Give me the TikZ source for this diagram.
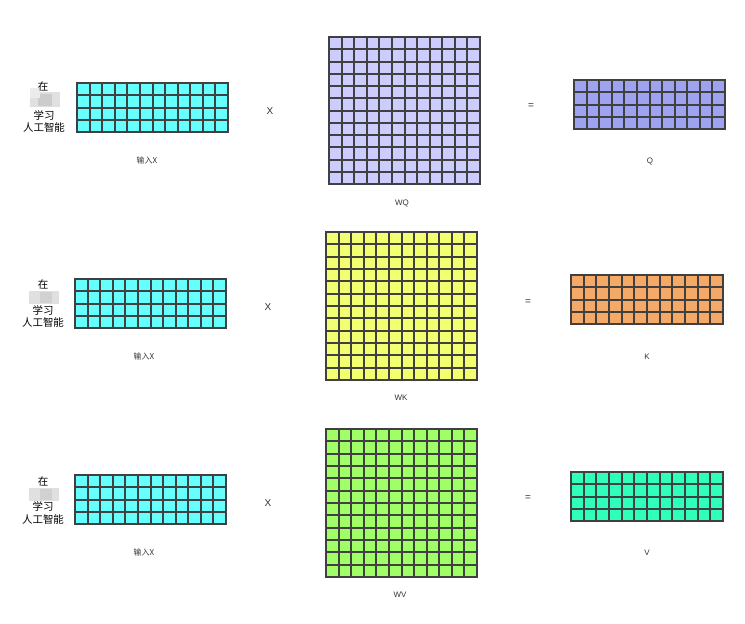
\documentclass[tikz,border=0pt]{standalone}
\usepackage{fontspec}
\setmainfont{Liberation Sans}
\newfontfamily\cjk{Noto Sans CJK SC}
\definecolor{xcyan}{HTML}{66FFFF}
\definecolor{wqcol}{HTML}{CCCCFF}
\definecolor{qcol}{HTML}{9EA3F0}
\definecolor{wkcol}{HTML}{F2FF70}
\definecolor{kcol}{HTML}{F4AA66}
\definecolor{wvcol}{HTML}{A0FF66}
\definecolor{vcol}{HTML}{2EFFBB}
\definecolor{gline}{HTML}{404040}
% #1 name, #2 left, #3 top, #4 width, #5 height, #6 cols, #7 rows, #8 fill
\newcommand\mgrid[8]{%
  \node[matbox, fill=#8, minimum width=#4bp, minimum height=#5bp] (#1) at (#2+#4/2, #3+#5/2) {};
  \foreach \i in {1,...,\numexpr#6-1\relax}{%
    \pgfmathsetmacro\gx{round(#2+\i*#4/#6)}
    \draw[gridline] (\gx,#3) -- (\gx,#3+#5);}
  \foreach \j in {1,...,\numexpr#7-1\relax}{%
    \pgfmathsetmacro\gy{round(#3+\j*#5/#7)}
    \draw[gridline] (#2,\gy) -- (#2+#4,\gy);}
  \node[matbox, minimum width=#4bp, minimum height=#5bp] at (#1) {};
}
\tikzset{
  matbox/.style={draw=gline, line width=2bp, inner sep=0pt, outer sep=0pt, rectangle},
  gridline/.style={draw=gline, line width=2bp},
  cjkcap/.style={font=\cjk\fontsize{8}{9}\selectfont, text=black!80},
  lbl/.style={font=\fontsize{8}{9}\selectfont, text=black!80},
  opsign/.style={font=\fontsize{10}{11}\selectfont, text=black!80},
  side/.style={font=\cjk\fontsize{10.5}{12}\selectfont, inner sep=0pt}
}
\begin{document}
\begin{tikzpicture}[x=1bp,y=-1bp]
\useasboundingbox (0,0) rectangle (745,624);
% ---------- row 1 ----------
\mgrid{x1}{77}{83}{151}{49}{12}{4}{xcyan}
\mgrid{wq}{329}{37}{151}{147}{12}{12}{wqcol}
\mgrid{q}{574}{80}{151}{49}{12}{4}{qcol}
\fill[black!12] (30,92) rectangle (60,107);
\fill[black!20] (38,94) rectangle (52,106);
\fill[black!8] (30,88) rectangle (40,98);
\node[side] (s1a) at (43,87) {在};
\node[side] (s1b) at (44,115) {学习};
\node[side] (s1c) at (44,128) {人工智能};
\node[cjkcap] (c1) at (147,160) {输入X};
\node[opsign] (m1) at (270,111) {X};
\node[lbl] (l1) at (402,203) {WQ};
\node[opsign] (e1) at (531,106) {=};
\node[lbl] (r1) at (650,161) {Q};
% ---------- row 2 ----------
\mgrid{x2}{75}{279}{151}{49}{12}{4}{xcyan}
\mgrid{wk}{326}{232}{151}{148}{12}{12}{wkcol}
\mgrid{k}{571}{275}{152}{49}{12}{4}{kcol}
\fill[black!12] (29,291) rectangle (59,304);
\fill[black!18] (40,292) rectangle (52,303);
\node[side] (s2a) at (43,285) {在};
\node[side] (s2b) at (43,310) {学习};
\node[side] (s2c) at (43,323) {人工智能};
\node[cjkcap] (c2) at (144,356) {输入X};
\node[opsign] (m2) at (268,307) {X};
\node[lbl] (l2) at (401,398) {WK};
\node[opsign] (e2) at (528,302) {=};
\node[lbl] (r2) at (647,357) {K};
% ---------- row 3 ----------
\mgrid{x3}{75}{475}{151}{49}{12}{4}{xcyan}
\mgrid{wv}{326}{429}{151}{148}{12}{12}{wvcol}
\mgrid{v}{571}{472}{152}{49}{12}{4}{vcol}
\fill[black!12] (29,488) rectangle (59,501);
\fill[black!18] (40,489) rectangle (52,500);
\node[side] (s3a) at (43,481) {在};
\node[side] (s3b) at (43,506) {学习};
\node[side] (s3c) at (43,520) {人工智能};
\node[cjkcap] (c3) at (144,552) {输入X};
\node[opsign] (m3) at (268,503) {X};
\node[lbl] (l3) at (400,595) {WV};
\node[opsign] (e3) at (528,498) {=};
\node[lbl] (r3) at (647,553) {V};
\end{tikzpicture}
\end{document}
